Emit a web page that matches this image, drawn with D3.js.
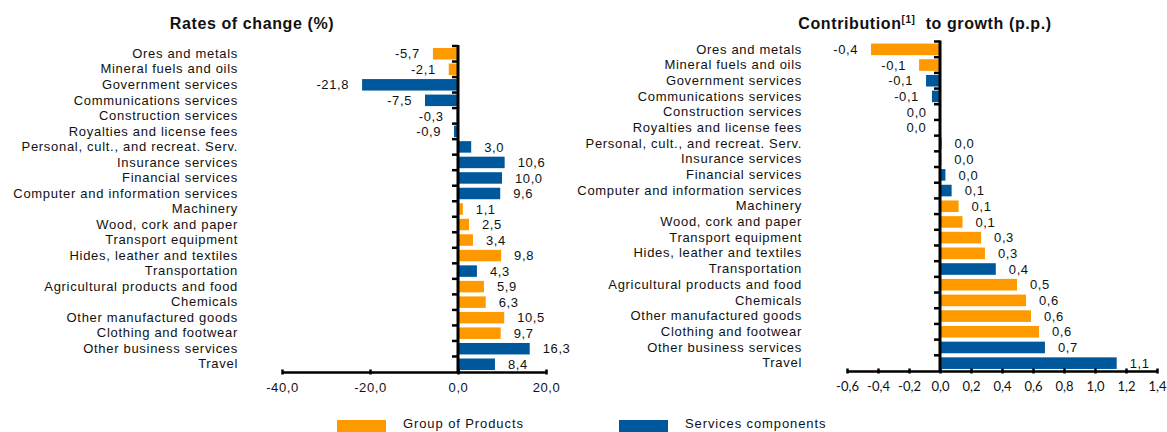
<!DOCTYPE html>
<html>
<head>
<meta charset="utf-8">
<script src="https://cdn.jsdelivr.net/npm/d3@7"></script>
<style>
  html, body { margin: 0; padding: 0; background: #fff; }
  svg { display: block; }
  text { font-family: "Liberation Sans", Arial, sans-serif; fill: #111; }
</style>
</head>
<body>
<svg id="chart" width="1167" height="432"></svg>
<script>
const categories = [
  "Ores and metals", "Mineral fuels and oils", "Government services",
  "Communications services", "Construction services", "Royalties and license fees",
  "Personal, cult., and recreat. Serv.", "Insurance services", "Financial services",
  "Computer and information services", "Machinery", "Wood, cork and paper",
  "Transport equipment", "Hides, leather and textiles", "Transportation",
  "Agricultural products and food", "Chemicals", "Other manufactured goods",
  "Clothing and footwear", "Other business services", "Travel"
];
// "P" = Group of Products, "S" = Services components
const groups = ["P","P","S","S","S","S","S","S","S","S","P","P","P","P","S","P","P","P","P","S","S"];
const ratesOfChange = [-5.7, -2.1, -21.8, -7.5, -0.3, -0.9, 3.0, 10.6, 10.0, 9.6, 1.1, 2.5, 3.4, 9.8, 4.3, 5.9, 6.3, 10.5, 9.7, 16.3, 8.4];
const contributions = [-0.445, -0.135, -0.09, -0.052, -0.002, -0.004, 0.01, 0.008, 0.035, 0.075, 0.12, 0.145, 0.265, 0.29, 0.36, 0.497, 0.555, 0.587, 0.639, 0.677, 1.14];
const leftTicks = [-40, -20, 0, 20];
const rightTicks = [-0.6, -0.4, -0.2, 0.0, 0.2, 0.4, 0.6, 0.8, 1.0, 1.2, 1.4];
const legendLabels = ["Group of Products", "Services components"];
const colors = { P: "#FF9900", S: "#00589C" };

const loc = d3.formatLocale({decimal: ",", thousands: ".", grouping: [3], currency: ["", ""], minus: "-"});
const f1 = loc.format(".1f");

const svg = d3.select("#chart");

function panel(opts) {
  const g = svg.append("g");
  const x = d3.scaleLinear().domain(opts.domain).range(opts.xr);
  const y = d3.scaleBand().domain(categories).range(opts.yr).paddingInner(0.26).paddingOuter(0.13);
  const step = y.step();
  const x0 = x(0);

  // title
  g.append("text").attr("x", opts.titleX).attr("y", opts.titleY)
    .attr("text-anchor", "middle").attr("font-weight", "bold")
    .attr("font-size", 16).style("letter-spacing", "0.6px")
    .call(opts.title);

  // bars
  const data = categories.map((c, i) => ({c, v: opts.values[i], g: groups[i]}));
  g.selectAll("rect.bar").data(data).join("rect").attr("class", "bar")
    .attr("x", d => Math.min(x(d.v), x0))
    .attr("width", d => Math.abs(x(d.v) - x0))
    .attr("y", d => y(d.c))
    .attr("height", y.bandwidth())
    .attr("fill", d => colors[d.g]);

  // value labels
  g.selectAll("text.val").data(data).join("text").attr("class", "val")
    .attr("x", d => d.v < 0 ? x(d.v) - 13 : x(d.v) + 13)
    .attr("y", d => y(d.c) + y.bandwidth() / 2)
    .attr("dy", "0.36em")
    .attr("text-anchor", d => d.v < 0 ? "end" : "start")
    .attr("font-size", 13).style("letter-spacing", "0.6px")
    .text(d => f1(d.v));

  // category labels
  const yAxis = d3.axisLeft(y).tickSize(0).tickPadding(0);
  const ya = g.append("g").attr("transform", `translate(${opts.labelX},0)`).call(yAxis);
  ya.select(".domain").remove();
  ya.selectAll("text").attr("font-size", 13).style("letter-spacing", "0.7px")
    .attr("fill", "#111").style("font-family", "'Liberation Sans', Arial, sans-serif");

  // x axis
  const xAxis = d3.axisBottom(x).tickValues(opts.ticks).tickFormat(f1)
    .tickSizeInner(5).tickSizeOuter(0).tickPadding(12);
  const xa = g.append("g").attr("transform", `translate(0,${opts.yr[1]})`).call(xAxis);
  xa.select(".domain").attr("stroke", "#000").attr("stroke-width", 2.5);
  xa.selectAll(".tick line").attr("stroke", "#000").attr("stroke-width", 2.5).attr("y1", -2.5).attr("y2", 2.5);
  xa.selectAll(".tick text").attr("fill", opts.tickColor).attr("font-size", opts.tickFont)
    .style("font-family", opts.tickFamily).style("letter-spacing", opts.tickLS)
    .attr("dy", "0.2em");

  // y axis line with boundary ticks
  const top = opts.yr[0], bottom = opts.yr[1];
  const bounds = d3.range(categories.length + 1).map(i => top + i * step);
  g.selectAll("line.bt").data(bounds.slice(0, -1)).join("line").attr("class", "bt")
    .attr("x1", x0 - 6).attr("x2", x0).attr("y1", d => d).attr("y2", d => d)
    .attr("stroke", "#000").attr("stroke-width", 2.5);
  g.append("line").attr("x1", x0).attr("x2", x0).attr("y1", top - 1).attr("y2", bottom + 1)
    .attr("stroke", "#000").attr("stroke-width", 3);
}

panel({
  domain: [-40, 20], xr: [282, 546], yr: [46, 372], values: ratesOfChange,
  ticks: leftTicks, labelX: 238, titleX: 252, titleY: 29,
  tickColor: "#111", tickFont: 13, tickFamily: "'Liberation Sans', Arial, sans-serif", tickLS: "0.6px",
  title: t => t.text("Rates of change (%)")
});

panel({
  domain: [-0.6, 1.4], xr: [847, 1157], yr: [41.5, 371], values: contributions,
  ticks: rightTicks, labelX: 802, titleX: 925, titleY: 29,
  tickColor: "#222", tickFont: 13, tickFamily: "Lato, 'Open Sans', sans-serif", tickLS: "0px",
  title: t => {
    t.append("tspan").text("Contribution");
    t.append("tspan").attr("font-size", 10).attr("dy", -6).text("[1]");
    t.append("tspan").attr("dy", 6).text("\u00a0 to growth (p.p.)");
  }
});

// legend
const legend = svg.append("g");
const legendX = [337, 619];
legendLabels.forEach((lab, i) => {
  legend.append("rect").attr("x", legendX[i]).attr("y", 420).attr("width", 49).attr("height", 14)
    .attr("fill", colors[i === 0 ? "P" : "S"]);
  legend.append("text").attr("x", legendX[i] + 66).attr("y", 423.5).attr("dy", "0.36em")
    .attr("font-size", 13).style("letter-spacing", "0.9px").text(lab);
});
</script>
</body>
</html>
